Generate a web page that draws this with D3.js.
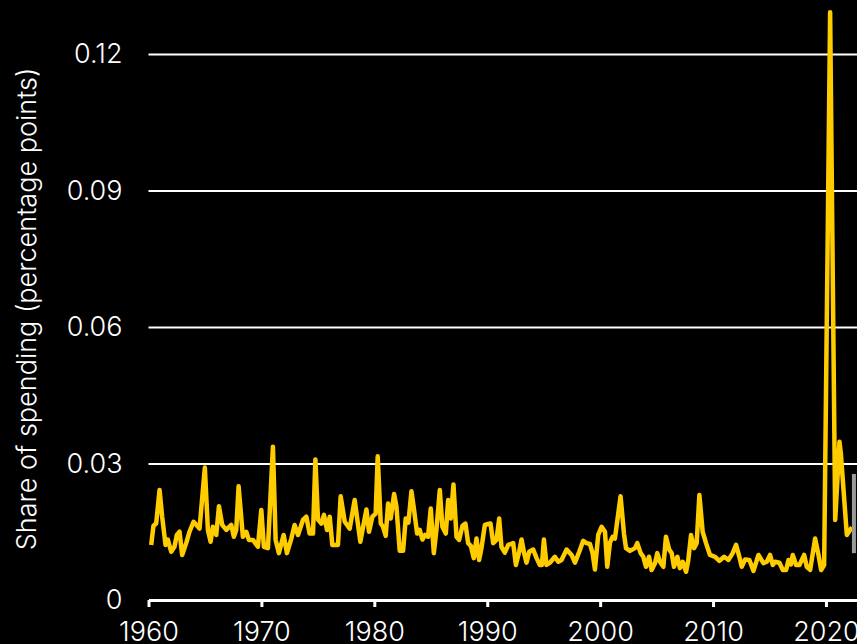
<!DOCTYPE html>
<html>
<head>
<meta charset="utf-8">
<script src="https://cdn.jsdelivr.net/npm/d3@7"></script>
<style>
  html, body { margin: 0; padding: 0; background: #000; }
  svg { display: block; }
  text { font-family: Inter, "Noto Sans", sans-serif; fill: #fff; font-weight: 300; }
</style>
</head>
<body>
<svg id="chart" width="857" height="644"></svg>
<script>
// ---- Data ----
const quarters = [
  1960.24,1960.44,1960.68,1960.98,1961.21,1961.51,1961.71,1962.01,1962.30,1962.51,1962.75,1962.98,
  1963.34,1963.63,1963.99,1964.52,1964.99,1965.26,1965.50,1965.70,1966.00,1966.24,1966.53,1966.89,
  1967.33,1967.56,1967.77,1967.98,1968.36,1968.66,1968.89,1969.25,1969.69,1969.99,1970.22,1970.58,
  1971.02,1971.26,1971.55,1971.97,1972.26,1972.65,1972.94,1973.24,1973.68,1973.98,1974.27,1974.57,
  1974.78,1975.01,1975.31,1975.54,1975.81,1976.05,1976.28,1976.78,1977.02,1977.38,1977.82,1978.26,
  1978.76,1979.30,1979.53,1979.83,1980.12,1980.30,
  1980.57,1980.77,1981.01,1981.22,1981.45,1981.75,1981.96,1982.25,1982.55,1982.78,1983.02,1983.29,
  1983.52,1983.79,1984.02,1984.26,1984.50,1984.76,1985.00,1985.27,1985.50,1985.80,1986.03,1986.33,
  1986.54,1986.77,1987.01,1987.28,1987.51,1987.81,1988.07,1988.31,1988.55,1988.81,1989.05,1989.28,
  1989.49,1989.79,1990.08,1990.29,1990.53,1990.82,1991.06,1991.26,1991.56,1991.86,1992.30,1992.54,
  1992.83,1993.04,1993.27,1993.48,1993.72,1994.07,1994.37,1994.66,1994.84,1995.02,1995.25,1995.55,
  1995.99,1996.29,1996.58,1997.03,1997.47,1997.77,1998.15,1998.50,1998.80,1999.10,1999.33,1999.54,
  1999.83,2000.13,2000.43,2000.63,2000.87,
  2001.11,2001.31,2001.81,2002.11,2002.29,2002.64,2003.09,2003.29,2003.59,2003.82,2004.06,2004.33,
  2004.56,2004.86,2005.06,2005.30,2005.60,2005.83,2006.13,2006.34,2006.54,2006.84,2007.07,2007.31,
  2007.61,2007.81,2008.05,2008.32,2008.55,2008.79,2009.08,2009.38,2009.73,2010.18,2010.56,2010.98,
  2011.36,2011.74,2012.04,2012.33,2012.54,2012.84,2013.22,2013.58,2014.02,2014.46,2014.76,2015.05,
  2015.29,2015.50,2015.88,2016.18,2016.47,2016.68,2016.89,2017.06,2017.36,2017.65,2018.07,2018.30,
  2018.60,2019.04,2019.34,2019.57,2019.84,2020.37,2020.82,2021.20,2021.32,2021.85,2022.30
];
const shareOfSpending = [
  0.0121,0.0163,0.0168,0.0242,0.0183,0.0121,0.0133,0.0106,0.0117,0.0143,0.0150,0.0099,
  0.0125,0.0150,0.0172,0.0157,0.0291,0.0154,0.0128,0.0161,0.0143,0.0206,0.0165,0.0154,
  0.0165,0.0139,0.0154,0.0250,0.0139,0.0150,0.0132,0.0132,0.0117,0.0198,0.0117,0.0114,
  0.0337,0.0132,0.0103,0.0143,0.0103,0.0135,0.0165,0.0143,0.0176,0.0183,0.0146,0.0146,
  0.0309,0.0177,0.0168,0.0187,0.0154,0.0183,0.0121,0.0121,0.0228,0.0172,0.0157,0.0220,
  0.0128,0.0199,0.0150,0.0183,0.0190,0.0316,
  0.0168,0.0161,0.0141,0.0212,0.0179,0.0233,0.0205,0.0108,0.0108,0.0179,0.0170,0.0239,
  0.0198,0.0146,0.0154,0.0133,0.0143,0.0139,0.0201,0.0103,0.0154,0.0242,0.0161,0.0146,
  0.0220,0.0179,0.0254,0.0139,0.0132,0.0163,0.0168,0.0125,0.0119,0.0092,0.0135,0.0088,
  0.0114,0.0165,0.0167,0.0168,0.0125,0.0132,0.0179,0.0117,0.0104,0.0121,0.0125,0.0077,
  0.0106,0.0133,0.0103,0.0082,0.0106,0.0111,0.0092,0.0077,0.0077,0.0133,0.0077,0.0082,
  0.0095,0.0084,0.0088,0.0111,0.0099,0.0082,0.0106,0.0130,0.0125,0.0123,0.0103,0.0067,
  0.0143,0.0161,0.0150,0.0073,0.0126,
  0.0139,0.0135,0.0228,0.0146,0.0114,0.0108,0.0114,0.0125,0.0103,0.0095,0.0073,0.0095,
  0.0066,0.0081,0.0103,0.0084,0.0073,0.0139,0.0110,0.0103,0.0073,0.0095,0.0070,0.0084,
  0.0062,0.0088,0.0143,0.0114,0.0125,0.0231,0.0150,0.0125,0.0099,0.0095,0.0086,0.0095,
  0.0088,0.0103,0.0121,0.0095,0.0073,0.0089,0.0088,0.0064,0.0099,0.0081,0.0084,0.0099,
  0.0077,0.0084,0.0082,0.0066,0.0066,0.0088,0.0078,0.0099,0.0077,0.0077,0.0099,0.0073,
  0.0066,0.0135,0.0099,0.0066,0.0077,0.1292,0.0176,0.0348,0.0322,0.0143,0.0160
];
const xTickYears = [1960, 1970, 1980, 1990, 2000, 2010, 2020];
const yTickValues = [0, 0.03, 0.06, 0.09, 0.12];
const yTickLabels = ["0", "0.03", "0.06", "0.09", "0.12"];
const yAxisTitle = "Share of spending (percentage points)";

// ---- Layout ----
const W = 857, H = 644;
const plot = { left: 148.5, right: 857, top: 54, bottom: 600 };
const FONT = "Inter, 'Noto Sans', sans-serif";

const svg = d3.select("#chart");
svg.append("rect").attr("width", W).attr("height", H).attr("fill", "#000");

const x = d3.scaleLinear().domain([1960, 2022.75]).range([plot.left, plot.right]);
const y = d3.scaleLinear().domain([0, 0.12]).range([plot.bottom, plot.top]);

// Gridlines + y tick labels
const yAxis = d3.axisLeft(y).tickValues(yTickValues)
  .tickSize(-(plot.right - plot.left))
  .tickFormat((d, i) => yTickLabels[i])
  .tickPadding(26);
const gy = svg.append("g").attr("transform", `translate(${plot.left},0)`).call(yAxis);
gy.select(".domain").remove();
gy.selectAll(".tick line")
  .attr("stroke", "#fff").attr("stroke-width", 2)
  .attr("opacity", d => d === 0 ? 0 : 1);
gy.selectAll(".tick text")
  .attr("font-size", 27).attr("fill", "#fff")
  .attr("font-weight", 300)
  .attr("font-family", FONT);

// X axis
const xAxis = d3.axisBottom(x).tickValues(xTickYears).tickFormat(d3.format("d"))
  .tickSize(7).tickPadding(15).tickSizeOuter(0);
const gx = svg.append("g").attr("transform", `translate(0,${plot.bottom})`).call(xAxis);
gx.select(".domain").attr("stroke", "#fff").attr("stroke-width", 3);
gx.selectAll(".tick line").attr("stroke", "#fff").attr("stroke-width", 3);
gx.selectAll(".tick text")
  .attr("font-size", 27).attr("fill", "#fff")
  .attr("font-weight", 300)
  .attr("font-family", FONT);

// Y axis title
svg.append("text")
  .attr("transform", `translate(36,309) rotate(-90)`)
  .attr("text-anchor", "middle")
  .attr("font-size", 27)
  .attr("font-weight", 300)
  .text(yAxisTitle);

// Line
const data = quarters.map((q, i) => ({ t: q, v: shareOfSpending[i] }));
const line = d3.line().x(d => x(d.t)).y(d => y(d.v)).curve(d3.curveLinear);
svg.append("path").datum(data)
  .attr("fill", "none")
  .attr("stroke", "#FFCC00")
  .attr("stroke-width", 4.5)
  .attr("stroke-linejoin", "round")
  .attr("d", line);

// Partially visible grey marker at right edge
svg.append("rect")
  .attr("x", x(2022.3)).attr("y", y(0.0277))
  .attr("width", 4).attr("height", y(0.0103) - y(0.0277))
  .attr("fill", "#9a9a9a");
</script>
</body>
</html>
